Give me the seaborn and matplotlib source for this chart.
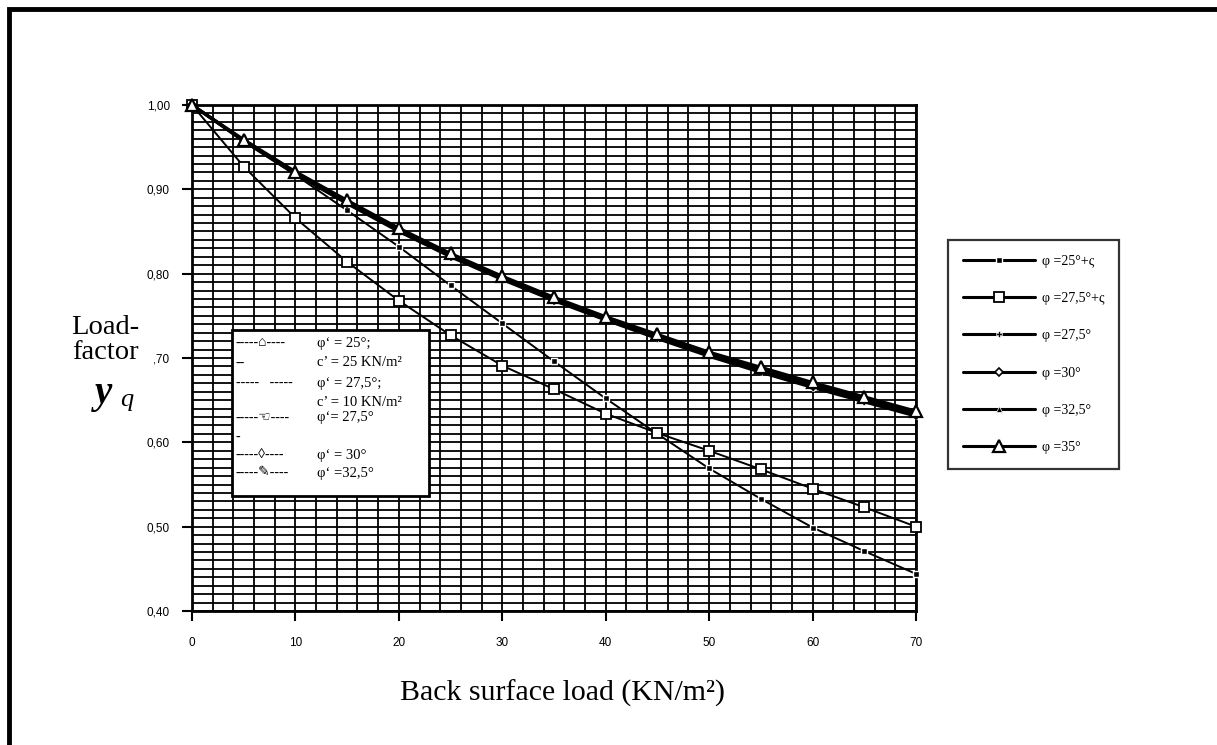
import numpy as np
import pandas as pd
import matplotlib
matplotlib.use("Agg")
import matplotlib.pyplot as plt
from matplotlib.lines import Line2D
from matplotlib.patches import Rectangle
from matplotlib.ticker import MultipleLocator, FuncFormatter
import seaborn as sns

# ---------------- data ----------------
load = [0, 5, 10, 15, 20, 25, 30, 35, 40, 45, 50, 55, 60, 65, 70]
phi25_c = [1.00, 0.957, 0.917, 0.875, 0.832, 0.786, 0.741, 0.696, 0.652, 0.610, 0.569, 0.533, 0.499, 0.471, 0.444]
phi275_c = [1.00, 0.927, 0.866, 0.814, 0.768, 0.727, 0.691, 0.663, 0.634, 0.611, 0.590, 0.568, 0.545, 0.523, 0.500]
phi275 = [1.00, 0.957, 0.918, 0.883, 0.850, 0.820, 0.793, 0.768, 0.745, 0.723, 0.702, 0.683, 0.665, 0.648, 0.631]
phi30 = [1.00, 0.958, 0.919, 0.884, 0.851, 0.821, 0.794, 0.769, 0.746, 0.725, 0.704, 0.685, 0.667, 0.650, 0.633]
phi325 = [1.00, 0.958, 0.920, 0.886, 0.853, 0.823, 0.796, 0.771, 0.748, 0.727, 0.706, 0.687, 0.669, 0.652, 0.635]
phi35 = [1.00, 0.959, 0.921, 0.887, 0.854, 0.824, 0.797, 0.772, 0.749, 0.728, 0.707, 0.689, 0.671, 0.654, 0.637]

series_labels = ["φ =25°+ς", "φ =27,5°+ς", "φ =27,5°", "φ =30°", "φ =32,5°", "φ =35°"]
x_ticks = [0, 10, 20, 30, 40, 50, 60, 70]
y_ticks = [0.40, 0.50, 0.60, 0.70, 0.80, 0.90, 1.00]

inner_left = ["-----⌂----", "--", "-----   -----", "", "-----☜----", "-", "-----◊----", "-----✎----"]
inner_right = ["φ‘ = 25°;", "c’ = 25 KN/m²", "φ‘ = 27,5°;", "c’ = 10 KN/m²", "φ‘= 27,5°", "", "φ‘ = 30°", "φ‘ =32,5°"]

# ---------------- style ----------------
sns.set_style("white")
plt.rcParams["font.family"] = ["Liberation Serif", "DejaVu Sans"]
plt.rcParams["text.color"] = "black"
plt.rcParams["axes.labelcolor"] = "black"
plt.rcParams["xtick.color"] = "black"
plt.rcParams["ytick.color"] = "black"
plt.rcParams["legend.labelcolor"] = "black"

W, H = 1217, 745
fig = plt.figure(figsize=(W / 100, H / 100), dpi=100)
ax = fig.add_axes([192 / W, 1 - 611 / H, (916 - 192) / W, (611 - 105) / H])

styles = [
    (phi25_c, dict(marker="s", markersize=4, mfc="black", mec="white", mew=1.0, lw=1.4)),
    (phi275_c, dict(marker="s", markersize=7, mfc="white", mec="black", mew=1.3, lw=1.4)),
    (phi275, dict(marker="P", markersize=4, mfc="black", mec="white", mew=0.5, lw=2.2)),
    (phi30, dict(marker="D", markersize=4, mfc="white", mec="black", mew=1.2, lw=2.2)),
    (phi325, dict(marker="^", markersize=4, mfc="black", mec="white", mew=0.5, lw=2.2)),
    (phi35, dict(marker="^", markersize=9, mfc="white", mec="black", mew=1.6, lw=2.2)),
]
for vals, st in styles:
    df = pd.DataFrame({"load": load, "val": vals})
    sns.lineplot(data=df, x="load", y="val", ax=ax, color="black", legend=False,
                 clip_on=False, zorder=3, **st)

ax.set_xlim(0, 70)
ax.set_ylim(0.40, 1.00)
ax.set_xticks(x_ticks)
ax.set_yticks(y_ticks)
ax.xaxis.set_minor_locator(MultipleLocator(2))
ax.yaxis.set_minor_locator(MultipleLocator(0.01))
ax.yaxis.set_major_formatter(FuncFormatter(lambda v, p: f"{v:.2f}".replace(".", ",")))
ax.grid(True, which="both", color="black", lw=1.3)
ax.set_axisbelow(True)
ax.tick_params(which="major", direction="out", length=7, width=1.5, color="black",
               labelcolor="black", labelsize=8.5, left=True, bottom=True)
ax.tick_params(axis="y", pad=9)
ax.tick_params(axis="x", pad=12)
ax.tick_params(which="minor", length=0)
for lab in ax.get_xticklabels() + ax.get_yticklabels():
    lab.set_fontfamily(["Liberation Sans", "DejaVu Sans"])
for sp in ax.spines.values():
    sp.set_color("black")
    sp.set_linewidth(2)
ax.set_xlabel("")
ax.set_ylabel("")

# x label
fig.text(563 / W, 1 - 693 / H, "Back surface load (KN/m²)", ha="center", va="center",
         fontsize=21.5, color="black")

# y label with white background (covers part of tick label)
fig.add_artist(Rectangle((138 / W, 1 - 367 / H), 16 / W, 18 / H, transform=fig.transFigure,
                         facecolor="white", edgecolor="none", zorder=5))
fig.text(105 / W, 1 - 340 / H, "Load-\nfactor", ha="center", va="center", fontsize=20.5,
         linespacing=1.0, zorder=6, color="black")
fig.text(104 / W, 1 - 394 / H, "y", ha="center", va="center", fontsize=28,
         fontweight="bold", style="italic", zorder=6, color="black")
fig.text(120 / W, 1 - 400 / H, "q", ha="left", va="center", fontsize=19, style="italic",
         zorder=6, color="black")

# inner (broken) legend box
x0, x1 = (232 - 192) / 724, (429 - 192) / 724
yb, yt = (611 - 496) / 506, (611 - 330) / 506
ax.add_patch(Rectangle((x0, yb), x1 - x0, yt - yb, transform=ax.transAxes,
                       facecolor="white", edgecolor="black", lw=2, zorder=6, clip_on=False))
rows_py = [343, 363, 383, 402, 417, 437, 455, 473]
for py, l, r in zip(rows_py, inner_left, inner_right):
    yy = (611 - py) / 506
    ax.text((236 - 192) / 724, yy, l, transform=ax.transAxes, ha="left", va="center",
            fontsize=10, zorder=7, color="black", family=["Liberation Serif", "DejaVu Sans"])
    ax.text((317 - 192) / 724, yy, r, transform=ax.transAxes, ha="left", va="center",
            fontsize=10.5, zorder=7, color="black")

# right legend
handles = [Line2D([], [], color="black", lw=2.2,
                  **{k: v for k, v in st.items() if k != "lw"}) for _, st in styles]
leg = fig.legend(handles, series_labels, loc="upper left",
                 bbox_to_anchor=(948 / W, 1 - 240 / H), fontsize=10,
                 handlelength=5.2, labelspacing=1.75, borderpad=1.05, handletextpad=0.5,
                 fancybox=False, frameon=True, borderaxespad=0, labelcolor="black")
leg.get_frame().set_edgecolor("black")
leg.get_frame().set_linewidth(1.6)

# figure border (top and left)
fig.add_artist(Rectangle((9 / W, -0.1), 1.2, 1.1 - 9 / H, transform=fig.transFigure,
                         facecolor="none", edgecolor="black", lw=3.5, clip_on=False))

fig.savefig("out.png", dpi=100)
